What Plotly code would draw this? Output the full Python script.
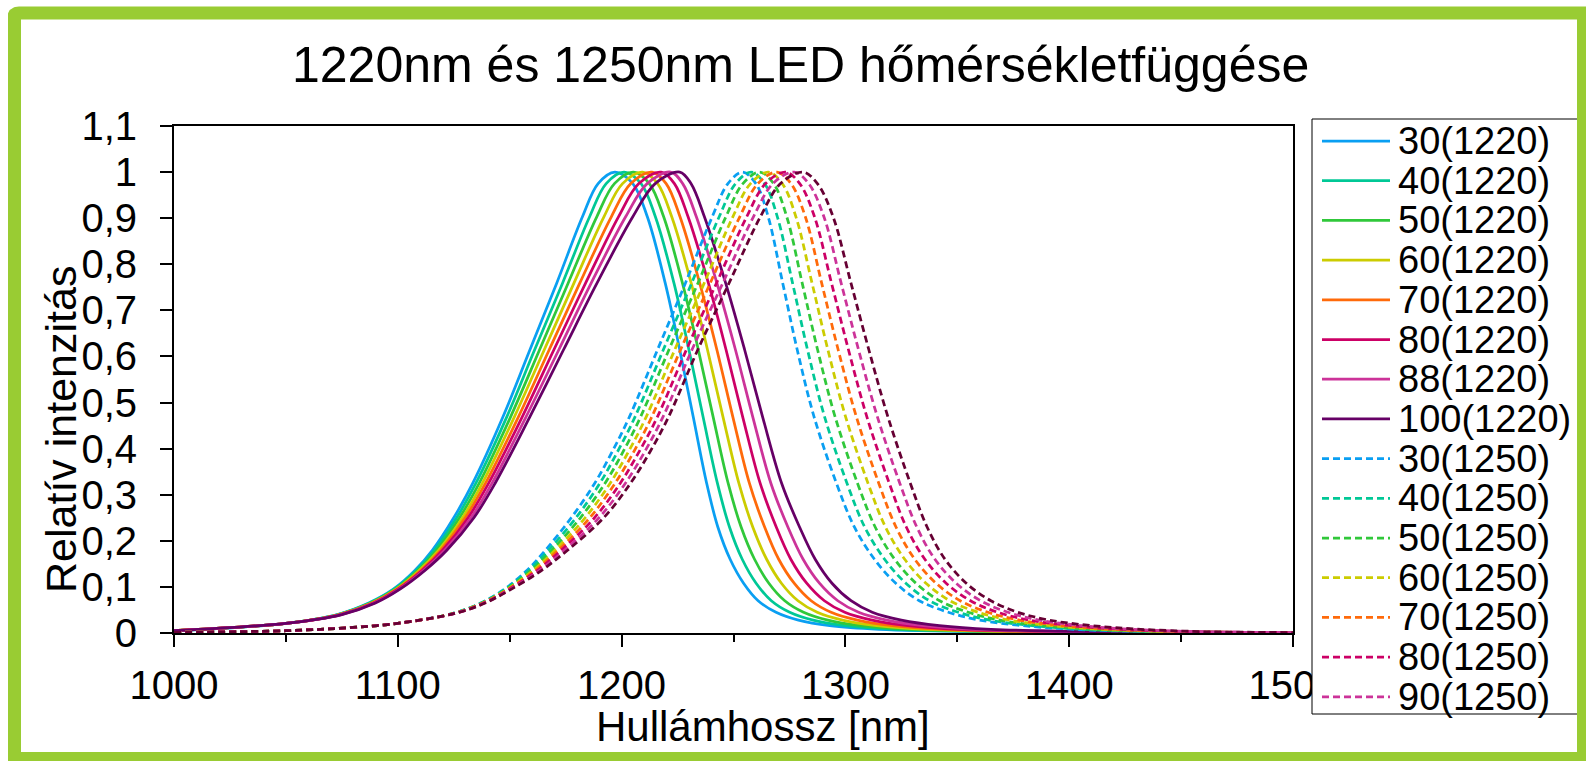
import plotly.graph_objects as go

# ---------------------------------------------------------------------------
# Spectra: relative intensity levels and the wavelength (nm) at which each
# curve passes that level (rising edge, peak, falling edge).
# ---------------------------------------------------------------------------
LEVELS_1220 = [0.005, 0.021, 0.04, 0.065, 0.095, 0.135, 0.18, 0.25, 0.325, 0.469, 0.614, 0.759, 0.903,
               0.975, 1.0, 0.975, 0.903, 0.759, 0.614, 0.469, 0.325, 0.23, 0.16, 0.108, 0.07, 0.045,
               0.028, 0.016, 0.008, 0.003, 0.001]

WL_30_1220 = [1000, 1050, 1073, 1087, 1098, 1107.5, 1115.5, 1125, 1133.5, 1147, 1159, 1171, 1182.5,
              1189.5, 1197, 1205, 1211.5, 1219.5, 1226, 1232, 1238, 1243, 1248.5, 1254.5, 1261, 1269,
              1279, 1293, 1315, 1360, 1500]
WL_40_1220 = [1000, 1050, 1073.3, 1087.4, 1098.4, 1108.1, 1116.4, 1126.3, 1134.9, 1148.7, 1161.1, 1173.6, 1185.7,
              1193.1, 1201.1, 1208.7, 1215.1, 1223.4, 1230.1, 1236.4, 1242.8, 1248.2, 1253.9, 1260.1, 1266.9, 1275.1,
              1285.6, 1300, 1322.1, 1367.1, 1500]
WL_50_1220 = [1000, 1050, 1073.6, 1087.9, 1098.9, 1108.8, 1117.4, 1127.6, 1136.4, 1150.4, 1163.3, 1176.1, 1188.9,
              1196.8, 1205.3, 1212.4, 1218.8, 1227.2, 1234.3, 1240.9, 1247.6, 1253.4, 1259.4, 1265.8, 1272.9, 1281.3,
              1292.1, 1307, 1329.3, 1374.3, 1500]
WL_60_1220 = [1000, 1050, 1073.9, 1088.3, 1099.3, 1109.4, 1118.3, 1128.9, 1137.8, 1152.1, 1165.4, 1178.7, 1192.1,
              1200.4, 1209.4, 1216.1, 1222.4, 1231.1, 1238.4, 1245.3, 1252.4, 1258.6, 1264.8, 1271.4, 1278.8, 1287.4,
              1298.7, 1314, 1336.4, 1381.4, 1500]
WL_70_1220 = [1000, 1050, 1074.1, 1088.7, 1099.7, 1110.1, 1119.2, 1130.1, 1139.2, 1153.9, 1167.6, 1181.3, 1195.4,
              1204.1, 1213.6, 1219.9, 1226.1, 1234.9, 1242.6, 1249.7, 1257.1, 1263.9, 1270.2, 1277.1, 1284.7, 1293.6,
              1305.3, 1321, 1343.6, 1388.6, 1500]
WL_80_1220 = [1000, 1050, 1074.4, 1089.1, 1100.1, 1110.7, 1120.1, 1131.4, 1140.6, 1155.6, 1169.7, 1183.9, 1198.6,
              1207.7, 1217.7, 1223.6, 1229.7, 1238.8, 1246.7, 1254.1, 1261.9, 1269.1, 1275.6, 1282.7, 1290.6, 1299.7,
              1311.9, 1328, 1350.7, 1395.7, 1500]
WL_88_1220 = [1000, 1050, 1074.7, 1089.6, 1100.6, 1111.4, 1121.1, 1132.7, 1142.1, 1157.3, 1171.9, 1186.4, 1201.8,
              1211.4, 1221.9, 1227.3, 1233.4, 1242.6, 1250.9, 1258.6, 1266.7, 1274.3, 1281.1, 1288.4, 1296.6, 1305.9,
              1318.4, 1335, 1357.9, 1402.9, 1500]
WL_100_1220 = [1000, 1050, 1075, 1090, 1101, 1112, 1122, 1134, 1143.5, 1159, 1174, 1189, 1205,
               1215, 1226, 1231, 1237, 1246.5, 1255, 1263, 1271.5, 1279.5, 1286.5, 1294, 1302.5, 1312,
               1325, 1342, 1365, 1410, 1500]

LEVELS_1250 = [0.0015, 0.005, 0.012, 0.021, 0.043, 0.065, 0.093, 0.135, 0.18, 0.25, 0.325, 0.4, 0.469,
               0.614, 0.759, 0.903, 0.975, 1.0, 0.975, 0.903, 0.759, 0.614, 0.469, 0.325, 0.23, 0.16,
               0.108, 0.07, 0.045, 0.028, 0.016, 0.008, 0.003, 0.001]

WL_30_1250 = [1000, 1050, 1080, 1100, 1125, 1137, 1147, 1157.5, 1166, 1177.5, 1188, 1196.5, 1203.5,
              1216, 1228.5, 1240.5, 1247.5, 1254, 1260, 1265.5, 1272, 1278.5, 1286, 1296, 1304, 1313,
              1322.5, 1333, 1346, 1360, 1379, 1402, 1435, 1500]
WL_40_1250 = [1000, 1050, 1080, 1100, 1125.1, 1137.3, 1147.4, 1158.4, 1167.4, 1179.6, 1190.3, 1198.9, 1206,
              1218.6, 1231.3, 1243.6, 1250.9, 1257.9, 1263.9, 1269.6, 1276.4, 1283.1, 1290.7, 1300.7, 1308.6, 1317.5,
              1327, 1337.6, 1350.4, 1364.4, 1383.4, 1406.3, 1438.6, 1500]
WL_50_1250 = [1000, 1050, 1080, 1100, 1125.3, 1137.6, 1147.9, 1159.4, 1168.9, 1181.6, 1192.6, 1201.4, 1208.5,
              1221.1, 1234.1, 1246.6, 1254.2, 1261.7, 1267.9, 1273.8, 1280.7, 1287.6, 1295.4, 1305.4, 1313.3, 1322,
              1331.5, 1342.1, 1354.9, 1368.9, 1387.9, 1410.6, 1442.1, 1500]
WL_60_1250 = [1000, 1050, 1080, 1100, 1125.4, 1137.9, 1148.3, 1160.3, 1170.3, 1183.7, 1194.9, 1203.8, 1211,
              1223.7, 1236.9, 1249.7, 1257.6, 1265.6, 1271.8, 1277.9, 1285.1, 1292.2, 1300.1, 1310.1, 1317.9, 1326.5,
              1336, 1346.7, 1359.3, 1373.3, 1392.3, 1414.9, 1445.7, 1500]
WL_70_1250 = [1000, 1050, 1080, 1100, 1125.6, 1138.1, 1148.7, 1161.2, 1171.7, 1185.8, 1197.1, 1206.2, 1213.5,
              1226.3, 1239.6, 1252.8, 1260.9, 1269.4, 1275.7, 1282.1, 1289.4, 1296.8, 1304.9, 1314.9, 1322.6, 1331,
              1340.5, 1351.3, 1363.7, 1377.7, 1396.7, 1419.1, 1449.3, 1500]
WL_80_1250 = [1000, 1050, 1080, 1100, 1125.7, 1138.4, 1149.1, 1162.1, 1173.1, 1187.9, 1199.4, 1208.6, 1216,
              1228.9, 1242.4, 1255.9, 1264.3, 1273.3, 1279.6, 1286.2, 1293.8, 1301.4, 1309.6, 1319.6, 1327.2, 1335.5,
              1345, 1355.9, 1368.1, 1382.1, 1401.1, 1423.4, 1452.9, 1500]
WL_90_1250 = [1000, 1050, 1080, 1100, 1125.9, 1138.7, 1149.6, 1163.1, 1174.6, 1189.9, 1201.7, 1211.1, 1218.5,
              1231.4, 1245.2, 1258.9, 1267.6, 1277.1, 1283.6, 1290.4, 1298.1, 1305.9, 1314.3, 1324.3, 1331.9, 1340,
              1349.5, 1360.4, 1372.6, 1386.6, 1405.6, 1427.7, 1456.4, 1500]
WL_100_1250 = [1000, 1050, 1080, 1100, 1126, 1139, 1150, 1164, 1176, 1192, 1204, 1213.5, 1221,
               1234, 1248, 1262, 1271, 1281, 1287.5, 1294.5, 1302.5, 1310.5, 1319, 1329, 1336.5, 1344.5,
               1354, 1365, 1377, 1391, 1410, 1432, 1460, 1500]

NAMES_1220 = ["30(1220)", "40(1220)", "50(1220)", "60(1220)", "70(1220)", "80(1220)", "88(1220)", "100(1220)"]
NAMES_1250 = ["30(1250)", "40(1250)", "50(1250)", "60(1250)", "70(1250)", "80(1250)", "90(1250)", "100(1250)"]
COLORS_1220 = ["#0A9FF2", "#00C896", "#30C83A", "#CCCC00", "#FF6A0A", "#CC0066", "#CC3399", "#660066"]
COLORS_1250 = ["#0A9FF2", "#00C896", "#30C83A", "#CCCC00", "#FF6A0A", "#CC0066", "#CC3399", "#660033"]
# the last 1250 curve does not fit into the legend box
LEGEND_1250 = [True, True, True, True, True, True, True, False]

X_TICKS = [1000, 1100, 1200, 1300, 1400, 1500]
X_LABELS = ["1000", "1100", "1200", "1300", "1400", "1500"]
Y_TICKS = [0, 0.1, 0.2, 0.3, 0.4, 0.5, 0.6, 0.7, 0.8, 0.9, 1.0, 1.1]
Y_LABELS = ["0", "0,1", "0,2", "0,3", "0,4", "0,5", "0,6", "0,7", "0,8", "0,9", "1", "1,1"]

TITLE = "1220nm és 1250nm LED hőmérsékletfüggése"
X_TITLE = "Hullámhossz [nm]"
Y_TITLE = "Relatív intenzitás"

# ---------------------------------------------------------------------------
W, H = 1586, 761
ML, MR, MT, MB = 174, 293, 126, 128
PW, PH = W - ML - MR, H - MT - MB
FONT = "Liberation Sans, Arial, sans-serif"
GREEN = "#99CC33"
LW = 2.75
DASH = "7px,4px"


def px(x):
    return (x - ML) / PW


def py(y):
    return (H - MB - y) / PH


series = []
for name, col, wl in zip(NAMES_1220, COLORS_1220,
                         [WL_30_1220, WL_40_1220, WL_50_1220, WL_60_1220,
                          WL_70_1220, WL_80_1220, WL_88_1220, WL_100_1220]):
    series.append(dict(name=name, color=col, x=wl, y=LEVELS_1220, dash="solid", legend=True))
for name, col, wl, leg in zip(NAMES_1250, COLORS_1250,
                              [WL_30_1250, WL_40_1250, WL_50_1250, WL_60_1250,
                               WL_70_1250, WL_80_1250, WL_90_1250, WL_100_1250], LEGEND_1250):
    series.append(dict(name=name, color=col, x=wl, y=LEVELS_1250, dash=DASH, legend=leg))

fig = go.Figure()
for s in series:
    fig.add_trace(go.Scatter(
        x=s["x"], y=s["y"], mode="lines", name=s["name"], showlegend=False,
        line=dict(color=s["color"], width=LW, dash=s["dash"], shape="spline", smoothing=1.0),
        hoverinfo="x+y+name",
    ))

shapes = []
annotations = []

# legend box and entries
shapes.append(dict(type="rect", xref="paper", yref="paper", layer="above",
                   x0=px(1312), x1=px(1620), y0=py(119), y1=py(714),
                   fillcolor="white", line=dict(color="black", width=1)))
row = 0
for s in series:
    if not s["legend"]:
        continue
    yc = 141 + row * 39.7
    shapes.append(dict(type="line", xref="paper", yref="paper", layer="above",
                       x0=px(1322), x1=px(1390), y0=py(yc), y1=py(yc),
                       line=dict(color=s["color"], width=LW,
                                 dash="solid" if s["dash"] == "solid" else DASH)))
    annotations.append(dict(xref="paper", yref="paper", x=px(1396), y=py(yc),
                            xanchor="left", yanchor="middle", showarrow=False,
                            text=s["name"], font=dict(family=FONT, size=38, color="black")))
    row += 1

# green frame around the whole chart, with a rounded top-left corner
shapes.append(dict(type="rect", xref="paper", yref="paper", layer="above",
                   x0=px(14.5), x1=px(1583.5), y0=py(13), y1=py(758.5),
                   line=dict(color=GREEN, width=13)))
cx, cy, r = 8, 7, 11
shapes.append(dict(type="path", xref="paper", yref="paper", layer="above",
                   path=(f"M {px(cx - 1)},{py(cy - 1)} L {px(cx + r)},{py(cy - 1)} "
                         f"Q {px(cx)},{py(cy)} {px(cx - 1)},{py(cy + r)} Z"),
                   fillcolor="white", line=dict(width=0)))

annotations.append(dict(xref="paper", yref="paper", x=px(800), y=py(65),
                        xanchor="center", yanchor="middle", showarrow=False,
                        text=TITLE, font=dict(family=FONT, size=50, color="black")))
annotations.append(dict(xref="paper", yref="paper", x=px(763), y=py(726),
                        xanchor="center", yanchor="middle", showarrow=False,
                        text=X_TITLE, font=dict(family=FONT, size=42, color="black")))
annotations.append(dict(xref="paper", yref="paper", x=px(61), y=py(430),
                        xanchor="center", yanchor="middle", showarrow=False, textangle=-90,
                        text=Y_TITLE, font=dict(family=FONT, size=43, color="black")))

axis_common = dict(showgrid=False, zeroline=False, showline=True, linecolor="black", linewidth=2,
                   mirror=True, ticks="outside", ticklen=12, tickwidth=1.5, tickcolor="black",
                   tickfont=dict(family=FONT, size=40, color="black"))

fig.update_layout(
    width=W, height=H,
    margin=dict(l=ML, r=MR, t=MT, b=MB, pad=0),
    paper_bgcolor="white", plot_bgcolor="white",
    showlegend=False,
    xaxis=dict(range=[1000, 1500], tickvals=X_TICKS, ticktext=X_LABELS, ticklabelstandoff=4,
               minor=dict(ticks="outside", ticklen=7, tickwidth=1.5, tickcolor="black",
                          dtick=50, tick0=1000, showgrid=False),
               **axis_common),
    yaxis=dict(range=[0, 1.1], tickvals=Y_TICKS, ticktext=Y_LABELS, ticklabelstandoff=15,
               **axis_common),
    shapes=shapes,
    annotations=annotations,
)

fig.write_html("out.html")
